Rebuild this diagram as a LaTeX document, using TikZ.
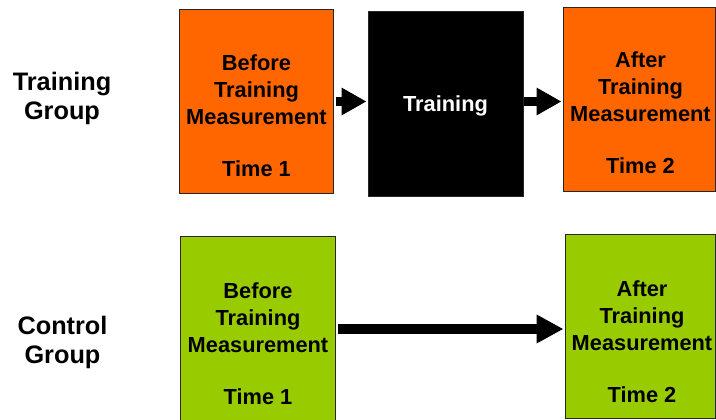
\documentclass[tikz,border=0pt]{standalone}
\usepackage{fontspec}
\setmainfont{Liberation Sans}
\usetikzlibrary{arrows.meta}
\definecolor{stageorange}{HTML}{FF6600}
\definecolor{stagegreen}{HTML}{99CC00}
\definecolor{edgegray}{HTML}{262626}
\tikzset{
  stagebox/.style={draw=edgegray, line width=1pt, inner sep=0pt},
  stagetext/.style={align=center, inner sep=0pt, anchor=north,
    font=\fontsize{21.8}{27}\selectfont\bfseries},
  grouplabel/.style={align=center, inner sep=0pt, anchor=north,
    font=\fontsize{25.3}{29}\selectfont\bfseries},
  flow/.style={line width=9pt, -{Triangle[length=25pt,width=26pt]}, shorten >=1pt},
}
\begin{document}
\begin{tikzpicture}[x=1pt,y=-1pt]
\useasboundingbox (0,0) rectangle (716,420);

% group labels
\node[grouplabel] (lt) at (62,71.5) {Training\\Group};
\node[grouplabel] (lc) at (62.5,315.5) {Control\\Group};

% training group row
\node[stagebox, fill=stageorange, minimum width=154pt, minimum height=183pt] (b1) at (256,101.5) {};
\node[stagebox, fill=black, minimum width=155pt, minimum height=184pt] (tr) at (445.5,104) {};
\node[stagebox, fill=stageorange, minimum width=152.5pt, minimum height=183pt] (b3) at (639.25,99.5) {};

\node[stagetext] (b1t) at (256.5,54.5) {Before\\Training\\Measurement\\[25pt]Time 1};
\node[stagetext, anchor=center, text=white] (trt) at (445.5,106) {Training};
\node[stagetext] (b3t) at (640.5,52) {After\\Training\\Measurement\\[25pt]Time 2};

% control group row
\node[stagebox, fill=stagegreen, minimum width=155pt, minimum height=186pt] (g1) at (257.5,329) {};
\node[stagebox, fill=stagegreen, minimum width=150.5pt, minimum height=184pt] (g2) at (640.25,326) {};

\node[stagetext] (g1t) at (258,283) {Before\\Training\\Measurement\\[25pt]Time 1};
\node[stagetext] (g2t) at (642,281) {After\\Training\\Measurement\\[25pt]Time 2};

% connectors
\draw[flow] ([xshift=2pt]b1.east) -- (tr.west |- b1.east);
\draw[flow] (tr.east |- b1.east) -- (b3.west |- b1.east);
\draw[flow, line width=10pt, -{Triangle[length=27pt,width=27pt]}] ([xshift=2pt]g1.east) -- (g2.west |- g1.east);
\end{tikzpicture}
\end{document}
